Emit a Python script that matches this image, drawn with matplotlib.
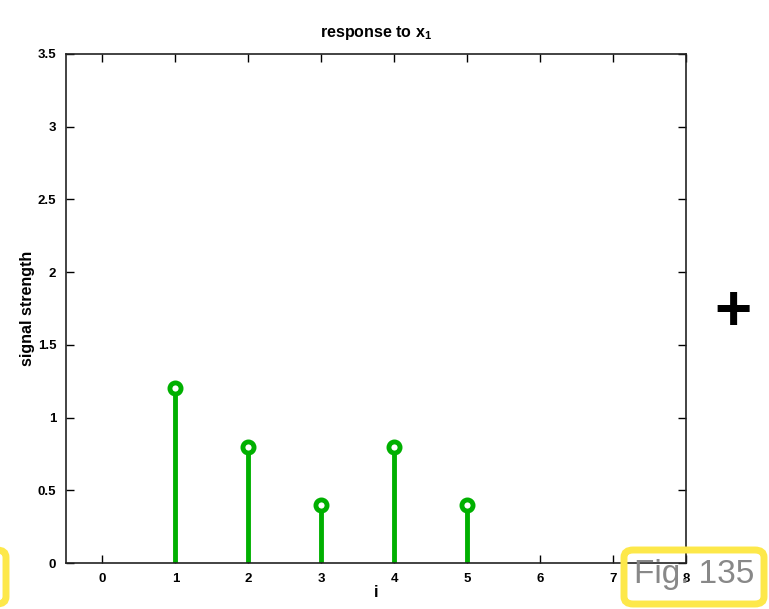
import matplotlib.pyplot as plt
from matplotlib.patches import FancyBboxPatch

# stem values of the response
idx = [1, 2, 3, 4, 5]
strength = [1.2, 0.8, 0.4, 0.8, 0.4]
xticks = [0, 1, 2, 3, 4, 5, 6, 7, 8]
yticks = [0, 0.5, 1, 1.5, 2, 2.5, 3, 3.5]
ytick_labels = ['0', '0.5', '1', '1.5', '2', '2.5', '3', '3.5']

plt.rcParams['font.family'] = ['Liberation Sans', 'DejaVu Sans']
plt.rcParams['mathtext.fontset'] = 'custom'
plt.rcParams['mathtext.bf'] = 'Liberation Sans:bold'
green = '#00b000'

fig = plt.figure(figsize=(7.69, 6.09), dpi=100)
ax = fig.add_axes([0.0858, 0.0755, 0.806, 0.836])

ml, sl, bl = ax.stem(idx, strength, basefmt=' ')
plt.setp(sl, color=green, linewidth=3.5)
plt.setp(ml, marker='o', markersize=8, markerfacecolor='white',
         markeredgecolor=green, markeredgewidth=3.5)

ax.set_xlim(-0.5, 8)
ax.set_ylim(0, 3.5)
ax.set_xticks(xticks)
ax.set_yticks(yticks)
ax.set_yticklabels(ytick_labels)
ax.tick_params(direction='in', top=True, right=True, length=6, width=1,
               labelsize=9.5, pad=7)
for lbl in ax.get_xticklabels() + ax.get_yticklabels():
    lbl.set_fontweight('bold')
for sp in ax.spines.values():
    sp.set_linewidth(1.2)
    sp.set_color('#222222')

ax.set_title('response to x$_{\\mathbf{1}}$', fontsize=11.5, fontweight='bold', pad=12)
ax.set_xlabel('i', fontsize=12, fontweight='bold', labelpad=0)
ax.set_ylabel('signal strength', fontsize=11.5, fontweight='bold', labelpad=2)

# plus sign on the right
fig.text(733 / 769, 1 - 313 / 609, '+', fontsize=46, fontweight='bold',
         ha='center', va='center', color='black')

# figure tag boxes (outline only, the axes corner shows through)
tag = FancyBboxPatch((624 / 769, 1 - 604 / 609), 140 / 769, 54 / 609,
                     boxstyle='round,pad=0,rounding_size=0.012',
                     transform=fig.transFigure, facecolor='none',
                     edgecolor='#fde84a', linewidth=5, zorder=5)
fig.patches.append(tag)
fig.text(694 / 769, 1 - 575 / 609, 'Fig. 135', fontsize=24, color='#888888',
         ha='center', va='center', zorder=6)
left_tag = FancyBboxPatch((-40 / 769, 1 - 604 / 609), 46 / 769, 54 / 609,
                          boxstyle='round,pad=0,rounding_size=0.012',
                          transform=fig.transFigure, facecolor='none',
                          edgecolor='#fde84a', linewidth=5, zorder=5)
fig.patches.append(left_tag)

fig.savefig('out.png', dpi=100)
